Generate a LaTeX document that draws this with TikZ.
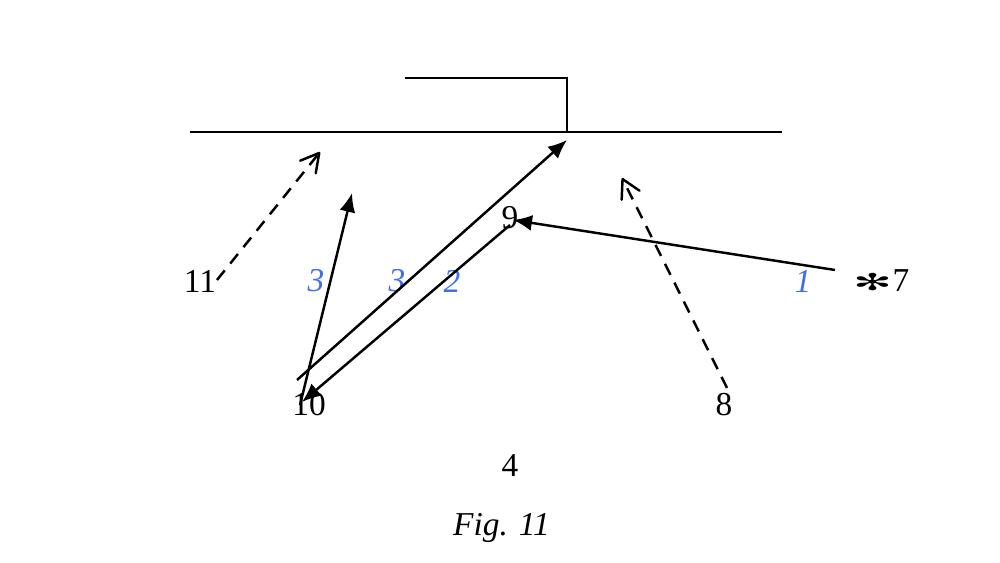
\documentclass[tikz,border=0pt]{standalone}
\usepackage{fontspec}
\setmainfont{Liberation Serif}
\newfontfamily\symfont{DejaVu Sans}
\usetikzlibrary{arrows.meta}

\definecolor{numblue}{RGB}{66,110,235}

\begin{document}
\begin{tikzpicture}[
				% Define Node Styles
				point/.style={inner sep=0pt, font=\fontsize{19}{22}\selectfont},
				raynum/.style={point, text=numblue, font=\fontsize{19}{22}\selectfont\itshape},
				% Define Line Styles
				wall/.style={line width=1.4pt},
				ray/.style={line width=1.4pt, -{Latex[length=0.38cm, width=0.32cm]}},
				virtual/.style={line width=1.4pt, dash pattern=on 7pt off 5pt, -{Straight Barb[length=0.36cm, width=0.4cm, round]}}
				]
				\useasboundingbox (0,0) rectangle (20,11.26);
				
				% Surface and step
				\coordinate (SL) at (3.8,8.62);
				\coordinate (SR) at (15.64,8.62);
				\coordinate (TL) at (8.1,9.7);
				\coordinate (TR) at (11.34,9.7);
				\coordinate (TB) at (11.34,8.62);
				\draw[wall] (SL) -- (SR);
				\draw[wall] (TL) -- (TR) -- (TB);
				
				% Nodes
				\node[point] (P11) at (4.0,5.64) {11};
				\node[point] (P9) at (10.2,6.9) {9};
				\node[point] (P10) at (6.18,3.16) {10};
				\node[point] (P8) at (14.48,3.16) {8};
				\node[point] (P7) at (18.02,5.64) {7};
				\node[point] (P4) at (10.2,1.94) {4};
				\node[point, font=\fontsize{12}{14}\selectfont\symfont] (star) at (17.45,5.62) {\scalebox{2.2}[1.1]{✻}};
				\node[point, font=\fontsize{19}{22}\selectfont\itshape] (cap) at (10.03,0.7) {Fig. 11};
				
				% Ray numbers
				\node[raynum] (n3a) at (6.32,5.64) {3};
				\node[raynum] (n3b) at (7.94,5.64) {3};
				\node[raynum] (n2) at (9.04,5.64) {2};
				\node[raynum] (n1) at (16.06,5.64) {1};
				
				% Ray ends
				\coordinate (a11) at (4.34,5.66);
				\coordinate (b11) at (6.4,8.22);
				\coordinate (a8) at (14.54,3.5);
				\coordinate (b8) at (12.44,7.7);
				\coordinate (a1) at (16.7,5.86);
				\coordinate (b1) at (10.26,6.86);
				\coordinate (a2) at (10.2,6.76);
				\coordinate (b2) at (6.04,3.22);
				\coordinate (a3) at (5.94,3.66);
				\coordinate (b3) at (11.34,8.46);
				\coordinate (a3s) at (6.0,3.16);
				\coordinate (b3s) at (7.04,7.4);
				
				% Virtual rays (dashed)
				\draw[virtual] (a11) -- (b11);
				\draw[virtual] (a8) -- (b8);
				
				% Real rays
				\draw[ray] (a1) -- (b1);
				\draw[ray] (a2) -- (b2);
				\draw[ray] (a3) -- (b3);
				\draw[ray] (a3s) -- (b3s);
				
			\end{tikzpicture}
\end{document}
